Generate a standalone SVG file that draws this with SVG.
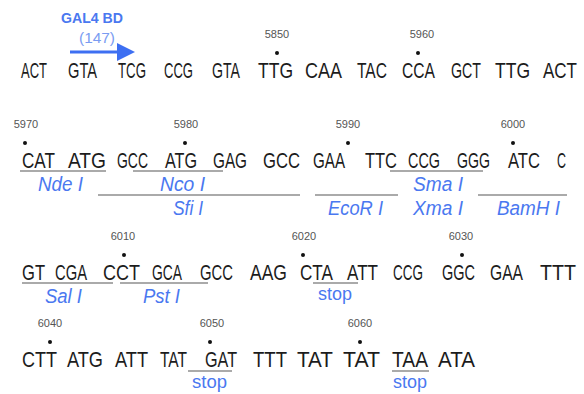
<svg xmlns="http://www.w3.org/2000/svg" width="584" height="394" viewBox="0 0 584 394">
<style>
.c{font-family:"Liberation Sans",Arial,sans-serif;font-size:22px;fill:#1c1c1c}
.n{font-family:"Liberation Sans",Arial,sans-serif;font-size:11px;fill:#555;text-anchor:middle}
.e{font-family:"Liberation Sans",Arial,sans-serif;font-size:20px;font-style:italic;fill:#4a78f0}
.s{font-family:"Liberation Sans",Arial,sans-serif;font-size:18px;fill:#4a78f0}
.u{stroke:#aaa;stroke-width:2;fill:none}
.d{fill:#111}
</style>
<defs>
<marker id="ah" markerWidth="6" markerHeight="6" refX="4" refY="3" orient="auto" markerUnits="strokeWidth"><path d="M0,0 L6,3 L0,6 z" fill="#3d6ff2"/></marker>
</defs>
<g id="gal4">
<text x="92" y="23" font-family="Liberation Sans,Arial,sans-serif" font-size="15" font-weight="bold" fill="#4a78f0" text-anchor="middle" textLength="62" lengthAdjust="spacingAndGlyphs">GAL4 BD</text>
<text x="97" y="43" font-family="Liberation Sans,Arial,sans-serif" font-size="15" fill="#7a9cf2" text-anchor="middle" textLength="36" lengthAdjust="spacingAndGlyphs">(147)</text>
<line x1="70" y1="52" x2="129" y2="52" stroke="#3d6ff2" stroke-width="3" marker-end="url(#ah)"/>
</g>
<g id="row1">
<text class="c" x="21" y="78" textLength="26" lengthAdjust="spacingAndGlyphs">ACT</text>
<text class="c" x="68" y="78" textLength="29" lengthAdjust="spacingAndGlyphs">GTA</text>
<text class="c" x="118" y="78" textLength="28" lengthAdjust="spacingAndGlyphs">TCG</text>
<text class="c" x="164" y="78" textLength="29" lengthAdjust="spacingAndGlyphs">CCG</text>
<text class="c" x="212" y="78" textLength="28" lengthAdjust="spacingAndGlyphs">GTA</text>
<text class="c" x="258" y="78" textLength="35" lengthAdjust="spacingAndGlyphs">TTG</text>
<text class="c" x="305" y="78" textLength="37" lengthAdjust="spacingAndGlyphs">CAA</text>
<text class="c" x="357" y="78" textLength="30" lengthAdjust="spacingAndGlyphs">TAC</text>
<text class="c" x="402" y="78" textLength="33" lengthAdjust="spacingAndGlyphs">CCA</text>
<text class="c" x="451" y="78" textLength="30" lengthAdjust="spacingAndGlyphs">GCT</text>
<text class="c" x="495" y="78" textLength="35" lengthAdjust="spacingAndGlyphs">TTG</text>
<text class="c" x="577" y="78" text-anchor="end" textLength="34" lengthAdjust="spacingAndGlyphs">ACT</text>
<text class="n" x="277" y="38">5850</text>
<circle class="d" cx="277" cy="53" r="2"/>
<text class="n" x="422" y="38">5960</text>
<circle class="d" cx="418" cy="53" r="2"/>
</g>
<g id="row2">
<text class="c" x="22" y="168" textLength="33" lengthAdjust="spacingAndGlyphs">CAT</text>
<text class="c" x="68" y="168" textLength="38" lengthAdjust="spacingAndGlyphs">ATG</text>
<text class="c" x="117" y="168" textLength="31" lengthAdjust="spacingAndGlyphs">GCC</text>
<text class="c" x="165" y="168" textLength="32" lengthAdjust="spacingAndGlyphs">ATG</text>
<text class="c" x="213" y="168" textLength="34" lengthAdjust="spacingAndGlyphs">GAG</text>
<text class="c" x="263" y="168" textLength="37" lengthAdjust="spacingAndGlyphs">GCC</text>
<text class="c" x="313" y="168" textLength="32" lengthAdjust="spacingAndGlyphs">GAA</text>
<text class="c" x="365" y="168" textLength="32" lengthAdjust="spacingAndGlyphs">TTC</text>
<text class="c" x="408" y="168" textLength="32" lengthAdjust="spacingAndGlyphs">CCG</text>
<text class="c" x="457" y="168" textLength="33" lengthAdjust="spacingAndGlyphs">GGG</text>
<text class="c" x="508" y="168" textLength="32" lengthAdjust="spacingAndGlyphs">ATC</text>
<text class="c" x="557" y="168" textLength="9" lengthAdjust="spacingAndGlyphs">C</text>
<text class="n" x="26" y="128">5970</text>
<circle class="d" cx="25" cy="143" r="2"/>
<text class="n" x="186" y="128">5980</text>
<circle class="d" cx="185" cy="143" r="2"/>
<text class="n" x="348" y="128">5990</text>
<circle class="d" cx="348" cy="143" r="2"/>
<text class="n" x="513" y="128">6000</text>
<circle class="d" cx="513" cy="143" r="2"/>
</g>
<g id="row3">
<text class="c" x="22" y="280" textLength="23" lengthAdjust="spacingAndGlyphs">GT</text>
<text class="c" x="55" y="280" textLength="32" lengthAdjust="spacingAndGlyphs">CGA</text>
<text class="c" x="103" y="280" textLength="37" lengthAdjust="spacingAndGlyphs">CCT</text>
<text class="c" x="152" y="280" textLength="30" lengthAdjust="spacingAndGlyphs">GCA</text>
<text class="c" x="200" y="280" textLength="33" lengthAdjust="spacingAndGlyphs">GCC</text>
<text class="c" x="250" y="280" textLength="37" lengthAdjust="spacingAndGlyphs">AAG</text>
<text class="c" x="300" y="280" textLength="33" lengthAdjust="spacingAndGlyphs">CTA</text>
<text class="c" x="347" y="280" textLength="31" lengthAdjust="spacingAndGlyphs">ATT</text>
<text class="c" x="393" y="280" textLength="30" lengthAdjust="spacingAndGlyphs">CCG</text>
<text class="c" x="442" y="280" textLength="33" lengthAdjust="spacingAndGlyphs">GGC</text>
<text class="c" x="490" y="280" textLength="33" lengthAdjust="spacingAndGlyphs">GAA</text>
<text class="c" x="576" y="280" text-anchor="end" textLength="36" lengthAdjust="spacingAndGlyphs">TTT</text>
<text class="n" x="123" y="240">6010</text>
<circle class="d" cx="124" cy="255" r="2"/>
<text class="n" x="304" y="240">6020</text>
<circle class="d" cx="303" cy="255" r="2"/>
<text class="n" x="461" y="240">6030</text>
<circle class="d" cx="462" cy="255" r="2"/>
</g>
<g id="row4">
<text class="c" x="22" y="367" textLength="35" lengthAdjust="spacingAndGlyphs">CTT</text>
<text class="c" x="67" y="367" textLength="36" lengthAdjust="spacingAndGlyphs">ATG</text>
<text class="c" x="115" y="367" textLength="33" lengthAdjust="spacingAndGlyphs">ATT</text>
<text class="c" x="160" y="367" textLength="27" lengthAdjust="spacingAndGlyphs">TAT</text>
<text class="c" x="205" y="367" textLength="32" lengthAdjust="spacingAndGlyphs">GAT</text>
<text class="c" x="253" y="367" textLength="34" lengthAdjust="spacingAndGlyphs">TTT</text>
<text class="c" x="297" y="367" textLength="36" lengthAdjust="spacingAndGlyphs">TAT</text>
<text class="c" x="343" y="367" textLength="37" lengthAdjust="spacingAndGlyphs">TAT</text>
<text class="c" x="392" y="367" textLength="36" lengthAdjust="spacingAndGlyphs">TAA</text>
<text class="c" x="438" y="367" textLength="37" lengthAdjust="spacingAndGlyphs">ATA</text>
<text class="n" x="50" y="327">6040</text>
<circle class="d" cx="50" cy="342" r="2"/>
<text class="n" x="212" y="327">6050</text>
<circle class="d" cx="210" cy="342" r="2"/>
<text class="n" x="360" y="327">6060</text>
<circle class="d" cx="360" cy="342" r="2"/>
</g>
<g id="connectors">
<line class="u" x1="20" y1="171" x2="106" y2="171"/>
<line class="u" x1="133" y1="171" x2="223" y2="171"/>
<line class="u" x1="390" y1="171" x2="483" y2="171"/>
<line class="u" x1="98" y1="195" x2="300" y2="195"/>
<line class="u" x1="315" y1="195" x2="398" y2="195"/>
<line class="u" x1="478" y1="195" x2="567" y2="195"/>
<line class="u" x1="22" y1="283" x2="113" y2="283"/>
<line class="u" x1="120" y1="283" x2="208" y2="283"/>
<line class="u" x1="313" y1="283" x2="358" y2="283"/>
<line class="u" x1="188" y1="371" x2="232" y2="371"/>
<line class="u" x1="392" y1="371" x2="429" y2="371"/>
</g>
<g id="enzymes">
<text class="e" x="38" y="191" textLength="45" lengthAdjust="spacingAndGlyphs">Nde I</text>
<text class="e" x="160" y="191" textLength="45" lengthAdjust="spacingAndGlyphs">Nco I</text>
<text class="e" x="413" y="191" textLength="50" lengthAdjust="spacingAndGlyphs">Sma I</text>
<text class="e" x="173" y="215" textLength="30" lengthAdjust="spacingAndGlyphs">Sfi I</text>
<text class="e" x="328" y="215" textLength="55" lengthAdjust="spacingAndGlyphs">EcoR I</text>
<text class="e" x="413" y="215" textLength="50" lengthAdjust="spacingAndGlyphs">Xma I</text>
<text class="e" x="497" y="215" textLength="63" lengthAdjust="spacingAndGlyphs">BamH I</text>
<text class="e" x="45" y="303" textLength="37" lengthAdjust="spacingAndGlyphs">Sal I</text>
<text class="e" x="143" y="303" textLength="37" lengthAdjust="spacingAndGlyphs">Pst I</text>
<text class="s" x="318" y="300" textLength="34" lengthAdjust="spacingAndGlyphs">stop</text>
<text class="s" x="192" y="388" textLength="35" lengthAdjust="spacingAndGlyphs">stop</text>
<text class="s" x="393" y="388" textLength="34" lengthAdjust="spacingAndGlyphs">stop</text>
</g>
</svg>
